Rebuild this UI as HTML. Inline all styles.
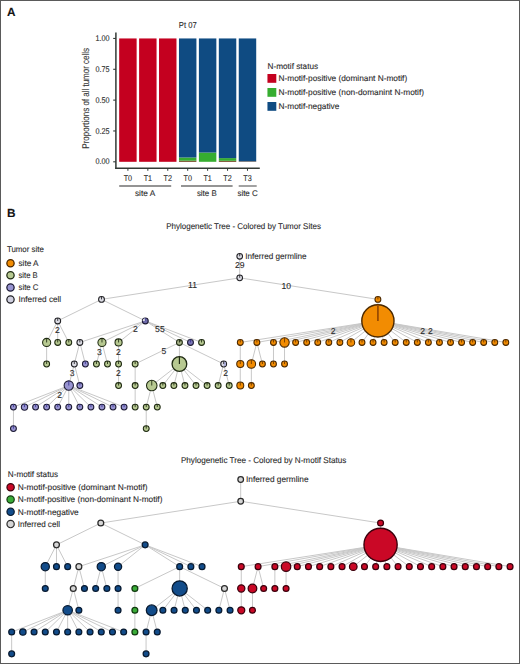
<!DOCTYPE html>
<html><head><meta charset="utf-8"><style>
html,body{margin:0;padding:0;background:#fff;}
body{width:520px;height:664px;overflow:hidden;}
svg{display:block;font-family:"Liberation Sans", sans-serif;text-rendering:geometricPrecision;}
text{stroke:#2a2a2a;stroke-width:0.1px;}
</style></head><body>
<svg width="520" height="664" viewBox="0 0 520 664">
<rect x="0" y="0" width="520" height="664" fill="#fff"/>
<text x="6.9" y="16.45" font-size="11.8" font-weight="bold" fill="#111">A</text>
<text x="7.0" y="217.3" font-size="11.8" font-weight="bold" fill="#111">B</text>
<text x="178.80" y="27.50" font-size="8.7" fill="#2a2a2a" textLength="17.9" lengthAdjust="spacingAndGlyphs">Pt 07</text>
<line x1="115.9" y1="32.5" x2="115.9" y2="168.9" stroke="#333a36" stroke-width="1.5"/>
<line x1="115.2" y1="168.2" x2="259.8" y2="168.2" stroke="#333a36" stroke-width="1.4"/>
<line x1="113.2" y1="38.45" x2="115.9" y2="38.45" stroke="#333a36" stroke-width="1.1"/>
<text x="109.50" y="41.00" font-size="8.3" text-anchor="end" fill="#2a2a2a" textLength="14.1" lengthAdjust="spacingAndGlyphs">1.00</text>
<line x1="113.2" y1="69.29" x2="115.9" y2="69.29" stroke="#333a36" stroke-width="1.1"/>
<text x="109.50" y="71.84" font-size="8.3" text-anchor="end" fill="#2a2a2a" textLength="14.1" lengthAdjust="spacingAndGlyphs">0.75</text>
<line x1="113.2" y1="100.12" x2="115.9" y2="100.12" stroke="#333a36" stroke-width="1.1"/>
<text x="109.50" y="102.67" font-size="8.3" text-anchor="end" fill="#2a2a2a" textLength="14.1" lengthAdjust="spacingAndGlyphs">0.50</text>
<line x1="113.2" y1="130.96" x2="115.9" y2="130.96" stroke="#333a36" stroke-width="1.1"/>
<text x="109.50" y="133.51" font-size="8.3" text-anchor="end" fill="#2a2a2a" textLength="14.1" lengthAdjust="spacingAndGlyphs">0.25</text>
<line x1="113.2" y1="161.80" x2="115.9" y2="161.80" stroke="#333a36" stroke-width="1.1"/>
<text x="109.50" y="164.35" font-size="8.3" text-anchor="end" fill="#2a2a2a" textLength="14.1" lengthAdjust="spacingAndGlyphs">0.00</text>
<text transform="translate(88.8,98.3) rotate(-90)" x="0" y="0" font-size="9.8" text-anchor="middle" fill="#3a3a3a" textLength="100.7" lengthAdjust="spacingAndGlyphs">Proportions of all tumor cells</text>
<rect x="119.18" y="38.45" width="17.45" height="123.35" fill="#c4001f"/>
<line x1="127.90" y1="168.2" x2="127.90" y2="170.8" stroke="#333a36" stroke-width="1"/>
<text x="127.90" y="181.15" font-size="8.3" text-anchor="middle" fill="#2a2a2a" textLength="8.4" lengthAdjust="spacingAndGlyphs">T0</text>
<rect x="139.11" y="38.45" width="17.45" height="123.35" fill="#c4001f"/>
<line x1="147.83" y1="168.2" x2="147.83" y2="170.8" stroke="#333a36" stroke-width="1"/>
<text x="147.83" y="181.15" font-size="8.3" text-anchor="middle" fill="#2a2a2a" textLength="8.4" lengthAdjust="spacingAndGlyphs">T1</text>
<rect x="159.03" y="38.45" width="17.45" height="123.35" fill="#c4001f"/>
<line x1="167.76" y1="168.2" x2="167.76" y2="170.8" stroke="#333a36" stroke-width="1"/>
<text x="167.76" y="181.15" font-size="8.3" text-anchor="middle" fill="#2a2a2a" textLength="8.4" lengthAdjust="spacingAndGlyphs">T2</text>
<rect x="178.97" y="160.69" width="17.45" height="1.11" fill="#6a3a14"/>
<rect x="178.97" y="157.48" width="17.45" height="3.21" fill="#36ad30"/>
<rect x="178.97" y="38.45" width="17.45" height="119.03" fill="#0f4b82"/>
<line x1="187.69" y1="168.2" x2="187.69" y2="170.8" stroke="#333a36" stroke-width="1"/>
<text x="187.69" y="181.15" font-size="8.3" text-anchor="middle" fill="#2a2a2a" textLength="8.4" lengthAdjust="spacingAndGlyphs">T0</text>
<rect x="198.90" y="152.55" width="17.45" height="9.25" fill="#36ad30"/>
<rect x="198.90" y="38.45" width="17.45" height="114.10" fill="#0f4b82"/>
<line x1="207.62" y1="168.2" x2="207.62" y2="170.8" stroke="#333a36" stroke-width="1"/>
<text x="207.62" y="181.15" font-size="8.3" text-anchor="middle" fill="#2a2a2a" textLength="8.4" lengthAdjust="spacingAndGlyphs">T1</text>
<rect x="218.83" y="160.81" width="17.45" height="0.99" fill="#6a3a14"/>
<rect x="218.83" y="158.10" width="17.45" height="2.71" fill="#36ad30"/>
<rect x="218.83" y="38.45" width="17.45" height="119.65" fill="#0f4b82"/>
<line x1="227.55" y1="168.2" x2="227.55" y2="170.8" stroke="#333a36" stroke-width="1"/>
<text x="227.55" y="181.15" font-size="8.3" text-anchor="middle" fill="#2a2a2a" textLength="8.4" lengthAdjust="spacingAndGlyphs">T2</text>
<rect x="238.76" y="161.31" width="17.45" height="0.49" fill="#6a3a14"/>
<rect x="238.76" y="38.45" width="17.45" height="122.86" fill="#0f4b82"/>
<line x1="247.48" y1="168.2" x2="247.48" y2="170.8" stroke="#333a36" stroke-width="1"/>
<text x="247.48" y="181.15" font-size="8.3" text-anchor="middle" fill="#2a2a2a" textLength="8.4" lengthAdjust="spacingAndGlyphs">T3</text>
<line x1="119.2" y1="186.0" x2="171.2" y2="186.0" stroke="#707070" stroke-width="1.3"/>
<text x="145.05" y="195.75" font-size="8.3" text-anchor="middle" fill="#2a2a2a" textLength="20.2" lengthAdjust="spacingAndGlyphs">site A</text>
<line x1="181" y1="186.0" x2="232.6" y2="186.0" stroke="#707070" stroke-width="1.3"/>
<text x="206.80" y="195.75" font-size="8.3" text-anchor="middle" fill="#2a2a2a" textLength="19.8" lengthAdjust="spacingAndGlyphs">site B</text>
<line x1="238.7" y1="186.0" x2="256.7" y2="186.0" stroke="#707070" stroke-width="1.3"/>
<text x="247.60" y="195.75" font-size="8.3" text-anchor="middle" fill="#2a2a2a" textLength="20.4" lengthAdjust="spacingAndGlyphs">site C</text>
<text x="267.50" y="68.77" font-size="8.2" fill="#2a2a2a" textLength="50.6" lengthAdjust="spacingAndGlyphs">N-motif status</text>
<rect x="267.45" y="74.00" width="8.85" height="8.8" fill="#c4001f"/>
<text x="278.50" y="80.75" font-size="8.3" fill="#2a2a2a" textLength="128.7" lengthAdjust="spacingAndGlyphs">N-motif-positive (dominant N-motif)</text>
<rect x="267.45" y="88.00" width="8.85" height="8.8" fill="#36ad30"/>
<text x="278.50" y="94.75" font-size="8.3" fill="#2a2a2a" textLength="145.5" lengthAdjust="spacingAndGlyphs">N-motif-positive (non-domanint N-motif)</text>
<rect x="267.45" y="102.00" width="8.85" height="8.8" fill="#0f4b82"/>
<text x="278.50" y="108.75" font-size="8.3" fill="#2a2a2a" textLength="60.8" lengthAdjust="spacingAndGlyphs">N-motif-negative</text>
<text x="166.20" y="228.60" font-size="8.4" fill="#2a2a2a" textLength="154.7" lengthAdjust="spacingAndGlyphs">Phylogenetic Tree - Colored by Tumor Sites</text>
<g stroke="#c8c8c8" stroke-width="1" fill="none">
<line x1="239.71" y1="256.30" x2="239.71" y2="277.84"/>
<line x1="239.71" y1="277.84" x2="101.51" y2="299.38"/>
<line x1="101.51" y1="299.38" x2="57.71" y2="320.92"/>
<line x1="57.71" y1="320.92" x2="46.64" y2="342.46"/>
<line x1="46.64" y1="342.46" x2="46.64" y2="364.00"/>
<line x1="57.71" y1="320.92" x2="57.71" y2="342.46"/>
<line x1="57.71" y1="320.92" x2="68.77" y2="342.46"/>
<line x1="101.51" y1="299.38" x2="145.31" y2="320.92"/>
<line x1="145.31" y1="320.92" x2="79.84" y2="342.46"/>
<line x1="79.84" y1="342.46" x2="74.31" y2="364.00"/>
<line x1="74.31" y1="364.00" x2="68.77" y2="385.54"/>
<line x1="68.77" y1="385.54" x2="13.45" y2="407.08"/>
<line x1="13.45" y1="407.08" x2="13.45" y2="428.62"/>
<line x1="68.77" y1="385.54" x2="24.52" y2="407.08"/>
<line x1="68.77" y1="385.54" x2="35.58" y2="407.08"/>
<line x1="68.77" y1="385.54" x2="46.64" y2="407.08"/>
<line x1="68.77" y1="385.54" x2="57.71" y2="407.08"/>
<line x1="68.77" y1="385.54" x2="68.77" y2="407.08"/>
<line x1="68.77" y1="385.54" x2="79.84" y2="407.08"/>
<line x1="68.77" y1="385.54" x2="90.91" y2="407.08"/>
<line x1="68.77" y1="385.54" x2="101.97" y2="407.08"/>
<line x1="68.77" y1="385.54" x2="113.03" y2="407.08"/>
<line x1="68.77" y1="385.54" x2="124.10" y2="407.08"/>
<line x1="74.31" y1="364.00" x2="79.84" y2="385.54"/>
<line x1="79.84" y1="342.46" x2="85.37" y2="364.00"/>
<line x1="145.31" y1="320.92" x2="101.97" y2="342.46"/>
<line x1="101.97" y1="342.46" x2="96.44" y2="364.00"/>
<line x1="101.97" y1="342.46" x2="107.50" y2="364.00"/>
<line x1="145.31" y1="320.92" x2="118.57" y2="342.46"/>
<line x1="118.57" y1="342.46" x2="118.57" y2="364.00"/>
<line x1="118.57" y1="364.00" x2="118.57" y2="385.54"/>
<line x1="145.31" y1="320.92" x2="179.42" y2="342.46"/>
<line x1="179.42" y1="342.46" x2="135.16" y2="364.00"/>
<line x1="135.16" y1="364.00" x2="135.16" y2="385.54"/>
<line x1="135.16" y1="385.54" x2="135.16" y2="407.08"/>
<line x1="179.42" y1="342.46" x2="179.42" y2="364.00"/>
<line x1="179.42" y1="364.00" x2="151.76" y2="385.54"/>
<line x1="151.76" y1="385.54" x2="146.23" y2="407.08"/>
<line x1="146.23" y1="407.08" x2="146.23" y2="428.62"/>
<line x1="151.76" y1="385.54" x2="157.29" y2="407.08"/>
<line x1="179.42" y1="364.00" x2="162.83" y2="385.54"/>
<line x1="179.42" y1="364.00" x2="173.89" y2="385.54"/>
<line x1="179.42" y1="364.00" x2="184.96" y2="385.54"/>
<line x1="179.42" y1="364.00" x2="196.02" y2="385.54"/>
<line x1="179.42" y1="364.00" x2="207.09" y2="385.54"/>
<line x1="179.42" y1="342.46" x2="223.68" y2="364.00"/>
<line x1="223.68" y1="364.00" x2="218.15" y2="385.54"/>
<line x1="223.68" y1="364.00" x2="229.22" y2="385.54"/>
<line x1="145.31" y1="320.92" x2="190.49" y2="342.46"/>
<line x1="145.31" y1="320.92" x2="201.55" y2="342.46"/>
<line x1="239.71" y1="277.84" x2="377.90" y2="299.38"/>
<line x1="377.90" y1="299.38" x2="377.90" y2="320.92"/>
<line x1="377.90" y1="320.92" x2="240.28" y2="342.46"/>
<line x1="240.28" y1="342.46" x2="240.28" y2="364.00"/>
<line x1="240.28" y1="364.00" x2="240.28" y2="385.54"/>
<line x1="377.90" y1="320.92" x2="256.88" y2="342.46"/>
<line x1="256.88" y1="342.46" x2="251.35" y2="364.00"/>
<line x1="251.35" y1="364.00" x2="251.35" y2="385.54"/>
<line x1="256.88" y1="342.46" x2="262.41" y2="364.00"/>
<line x1="377.90" y1="320.92" x2="273.48" y2="342.46"/>
<line x1="273.48" y1="342.46" x2="273.48" y2="364.00"/>
<line x1="377.90" y1="320.92" x2="284.54" y2="342.46"/>
<line x1="284.54" y1="342.46" x2="284.54" y2="364.00"/>
<line x1="377.90" y1="320.92" x2="295.61" y2="342.46"/>
<line x1="377.90" y1="320.92" x2="306.67" y2="342.46"/>
<line x1="377.90" y1="320.92" x2="317.74" y2="342.46"/>
<line x1="377.90" y1="320.92" x2="328.80" y2="342.46"/>
<line x1="377.90" y1="320.92" x2="339.87" y2="342.46"/>
<line x1="377.90" y1="320.92" x2="350.93" y2="342.46"/>
<line x1="377.90" y1="320.92" x2="362.00" y2="342.46"/>
<line x1="377.90" y1="320.92" x2="373.06" y2="342.46"/>
<line x1="377.90" y1="320.92" x2="384.13" y2="342.46"/>
<line x1="377.90" y1="320.92" x2="395.19" y2="342.46"/>
<line x1="377.90" y1="320.92" x2="406.26" y2="342.46"/>
<line x1="377.90" y1="320.92" x2="417.32" y2="342.46"/>
<line x1="377.90" y1="320.92" x2="428.39" y2="342.46"/>
<line x1="377.90" y1="320.92" x2="439.45" y2="342.46"/>
<line x1="377.90" y1="320.92" x2="450.52" y2="342.46"/>
<line x1="377.90" y1="320.92" x2="461.58" y2="342.46"/>
<line x1="377.90" y1="320.92" x2="472.65" y2="342.46"/>
<line x1="377.90" y1="320.92" x2="483.71" y2="342.46"/>
<line x1="377.90" y1="320.92" x2="494.78" y2="342.46"/>
<line x1="377.90" y1="320.92" x2="505.84" y2="342.46"/>
</g>
<circle cx="239.71" cy="256.30" r="2.83" fill="#dcdce4" stroke="#222226" stroke-width="1.05"/>
<line x1="239.71" y1="256.30" x2="239.71" y2="253.48" stroke="#222226" stroke-width="0.85"/>
<circle cx="239.71" cy="277.84" r="2.83" fill="#dcdce4" stroke="#222226" stroke-width="1.05"/>
<line x1="239.71" y1="277.84" x2="239.71" y2="275.02" stroke="#222226" stroke-width="0.85"/>
<circle cx="101.51" cy="299.38" r="2.93" fill="#dcdce4" stroke="#222226" stroke-width="1.05"/>
<line x1="101.51" y1="299.38" x2="101.51" y2="296.45" stroke="#222226" stroke-width="0.85"/>
<circle cx="57.71" cy="320.92" r="2.93" fill="#dcdce4" stroke="#222226" stroke-width="1.05"/>
<line x1="57.71" y1="320.92" x2="57.71" y2="318.00" stroke="#222226" stroke-width="0.85"/>
<circle cx="46.64" cy="342.46" r="4.07" fill="#b7c991" stroke="#1f2a12" stroke-width="1.05"/>
<line x1="46.64" y1="342.46" x2="46.64" y2="338.39" stroke="#1f2a12" stroke-width="0.85"/>
<circle cx="46.64" cy="364.00" r="2.93" fill="#b7c991" stroke="#1f2a12" stroke-width="1.05"/>
<line x1="46.64" y1="364.00" x2="46.64" y2="361.07" stroke="#1f2a12" stroke-width="0.85"/>
<circle cx="57.71" cy="342.46" r="2.93" fill="#b7c991" stroke="#1f2a12" stroke-width="1.05"/>
<line x1="57.71" y1="342.46" x2="57.71" y2="339.54" stroke="#1f2a12" stroke-width="0.85"/>
<circle cx="68.77" cy="342.46" r="2.93" fill="#b7c991" stroke="#1f2a12" stroke-width="1.05"/>
<line x1="68.77" y1="342.46" x2="68.77" y2="339.54" stroke="#1f2a12" stroke-width="0.85"/>
<circle cx="145.31" cy="320.92" r="2.93" fill="#6f6bab" stroke="#1c1a33" stroke-width="1.05"/>
<path d="M145.31,320.92 L145.31,318.30 A2.63,2.63 0 0 0 142.68,320.92 Z" fill="#dcdce4"/>
<line x1="145.31" y1="320.92" x2="145.31" y2="318.00" stroke="#3a3590" stroke-width="0.85"/>
<circle cx="79.84" cy="342.46" r="2.93" fill="#dcdce4" stroke="#222226" stroke-width="1.05"/>
<line x1="79.84" y1="342.46" x2="79.84" y2="339.54" stroke="#222226" stroke-width="0.85"/>
<circle cx="74.31" cy="364.00" r="2.93" fill="#dcdce4" stroke="#222226" stroke-width="1.05"/>
<line x1="74.31" y1="364.00" x2="74.31" y2="361.07" stroke="#222226" stroke-width="0.85"/>
<circle cx="68.77" cy="385.54" r="4.67" fill="#9894d1" stroke="#1c1a33" stroke-width="1.05"/>
<line x1="68.77" y1="385.54" x2="68.77" y2="380.87" stroke="#3a3590" stroke-width="0.85"/>
<circle cx="13.45" cy="407.08" r="2.93" fill="#9894d1" stroke="#1c1a33" stroke-width="1.05"/>
<line x1="13.45" y1="407.08" x2="13.45" y2="404.16" stroke="#3a3590" stroke-width="0.85"/>
<circle cx="13.45" cy="428.62" r="2.93" fill="#9894d1" stroke="#1c1a33" stroke-width="1.05"/>
<line x1="13.45" y1="428.62" x2="13.45" y2="425.69" stroke="#3a3590" stroke-width="0.85"/>
<circle cx="24.52" cy="407.08" r="3.18" fill="#9894d1" stroke="#1c1a33" stroke-width="1.05"/>
<line x1="24.52" y1="407.08" x2="24.52" y2="403.91" stroke="#3a3590" stroke-width="0.85"/>
<circle cx="35.58" cy="407.08" r="2.93" fill="#9894d1" stroke="#1c1a33" stroke-width="1.05"/>
<line x1="35.58" y1="407.08" x2="35.58" y2="404.16" stroke="#3a3590" stroke-width="0.85"/>
<circle cx="46.64" cy="407.08" r="2.93" fill="#9894d1" stroke="#1c1a33" stroke-width="1.05"/>
<line x1="46.64" y1="407.08" x2="46.64" y2="404.16" stroke="#3a3590" stroke-width="0.85"/>
<circle cx="57.71" cy="407.08" r="2.93" fill="#9894d1" stroke="#1c1a33" stroke-width="1.05"/>
<line x1="57.71" y1="407.08" x2="57.71" y2="404.16" stroke="#3a3590" stroke-width="0.85"/>
<circle cx="68.77" cy="407.08" r="2.93" fill="#9894d1" stroke="#1c1a33" stroke-width="1.05"/>
<line x1="68.77" y1="407.08" x2="68.77" y2="404.16" stroke="#3a3590" stroke-width="0.85"/>
<circle cx="79.84" cy="407.08" r="2.93" fill="#9894d1" stroke="#1c1a33" stroke-width="1.05"/>
<line x1="79.84" y1="407.08" x2="79.84" y2="404.16" stroke="#3a3590" stroke-width="0.85"/>
<circle cx="90.91" cy="407.08" r="2.93" fill="#9894d1" stroke="#1c1a33" stroke-width="1.05"/>
<line x1="90.91" y1="407.08" x2="90.91" y2="404.16" stroke="#3a3590" stroke-width="0.85"/>
<circle cx="101.97" cy="407.08" r="2.93" fill="#9894d1" stroke="#1c1a33" stroke-width="1.05"/>
<line x1="101.97" y1="407.08" x2="101.97" y2="404.16" stroke="#3a3590" stroke-width="0.85"/>
<circle cx="113.03" cy="407.08" r="2.93" fill="#9894d1" stroke="#1c1a33" stroke-width="1.05"/>
<line x1="113.03" y1="407.08" x2="113.03" y2="404.16" stroke="#3a3590" stroke-width="0.85"/>
<circle cx="124.10" cy="407.08" r="2.93" fill="#9894d1" stroke="#1c1a33" stroke-width="1.05"/>
<line x1="124.10" y1="407.08" x2="124.10" y2="404.16" stroke="#3a3590" stroke-width="0.85"/>
<circle cx="79.84" cy="385.54" r="2.93" fill="#9894d1" stroke="#1c1a33" stroke-width="1.05"/>
<line x1="79.84" y1="385.54" x2="79.84" y2="382.62" stroke="#3a3590" stroke-width="0.85"/>
<circle cx="85.37" cy="364.00" r="2.93" fill="#9894d1" stroke="#1c1a33" stroke-width="1.05"/>
<line x1="85.37" y1="364.00" x2="85.37" y2="361.07" stroke="#3a3590" stroke-width="0.85"/>
<circle cx="101.97" cy="342.46" r="4.07" fill="#b7c991" stroke="#1f2a12" stroke-width="1.05"/>
<line x1="101.97" y1="342.46" x2="101.97" y2="338.39" stroke="#1f2a12" stroke-width="0.85"/>
<circle cx="96.44" cy="364.00" r="2.93" fill="#b7c991" stroke="#1f2a12" stroke-width="1.05"/>
<line x1="96.44" y1="364.00" x2="96.44" y2="361.07" stroke="#1f2a12" stroke-width="0.85"/>
<circle cx="107.50" cy="364.00" r="2.93" fill="#b7c991" stroke="#1f2a12" stroke-width="1.05"/>
<line x1="107.50" y1="364.00" x2="107.50" y2="361.07" stroke="#1f2a12" stroke-width="0.85"/>
<circle cx="118.57" cy="342.46" r="3.57" fill="#b7c991" stroke="#1f2a12" stroke-width="1.05"/>
<line x1="118.57" y1="342.46" x2="118.57" y2="338.89" stroke="#1f2a12" stroke-width="0.85"/>
<circle cx="118.57" cy="364.00" r="2.93" fill="#b7c991" stroke="#1f2a12" stroke-width="1.05"/>
<line x1="118.57" y1="364.00" x2="118.57" y2="361.07" stroke="#1f2a12" stroke-width="0.85"/>
<circle cx="118.57" cy="385.54" r="2.93" fill="#b7c991" stroke="#1f2a12" stroke-width="1.05"/>
<line x1="118.57" y1="385.54" x2="118.57" y2="382.62" stroke="#1f2a12" stroke-width="0.85"/>
<circle cx="179.42" cy="342.46" r="2.93" fill="#a9b48a" stroke="#1f2a12" stroke-width="1.05"/>
<path d="M179.42,342.46 L179.42,339.54 A2.93,2.93 0 0 1 181.47,340.41 Z" fill="#3a4420"/>
<line x1="179.42" y1="342.46" x2="179.42" y2="339.54" stroke="#1f2a12" stroke-width="0.85"/>
<circle cx="135.16" cy="364.00" r="2.93" fill="#b7c991" stroke="#1f2a12" stroke-width="1.05"/>
<line x1="135.16" y1="364.00" x2="135.16" y2="361.07" stroke="#1f2a12" stroke-width="0.85"/>
<circle cx="135.16" cy="385.54" r="2.93" fill="#b7c991" stroke="#1f2a12" stroke-width="1.05"/>
<line x1="135.16" y1="385.54" x2="135.16" y2="382.62" stroke="#1f2a12" stroke-width="0.85"/>
<circle cx="135.16" cy="407.08" r="2.93" fill="#b7c991" stroke="#1f2a12" stroke-width="1.05"/>
<line x1="135.16" y1="407.08" x2="135.16" y2="404.16" stroke="#1f2a12" stroke-width="0.85"/>
<circle cx="179.42" cy="364.00" r="7.35" fill="#b7c991" stroke="#1f2a12" stroke-width="1.3"/>
<line x1="179.42" y1="364.00" x2="179.42" y2="356.65" stroke="#1f2a12" stroke-width="1.2"/>
<circle cx="151.76" cy="385.54" r="5.27" fill="#b7c991" stroke="#1f2a12" stroke-width="1.05"/>
<line x1="151.76" y1="385.54" x2="151.76" y2="380.27" stroke="#1f2a12" stroke-width="0.85"/>
<circle cx="146.23" cy="407.08" r="2.93" fill="#b7c991" stroke="#1f2a12" stroke-width="1.05"/>
<line x1="146.23" y1="407.08" x2="146.23" y2="404.16" stroke="#1f2a12" stroke-width="0.85"/>
<circle cx="146.23" cy="428.62" r="2.93" fill="#b7c991" stroke="#1f2a12" stroke-width="1.05"/>
<line x1="146.23" y1="428.62" x2="146.23" y2="425.69" stroke="#1f2a12" stroke-width="0.85"/>
<circle cx="157.29" cy="407.08" r="2.93" fill="#b7c991" stroke="#1f2a12" stroke-width="1.05"/>
<line x1="157.29" y1="407.08" x2="157.29" y2="404.16" stroke="#1f2a12" stroke-width="0.85"/>
<circle cx="162.83" cy="385.54" r="2.93" fill="#b7c991" stroke="#1f2a12" stroke-width="1.05"/>
<line x1="162.83" y1="385.54" x2="162.83" y2="382.62" stroke="#1f2a12" stroke-width="0.85"/>
<circle cx="173.89" cy="385.54" r="2.93" fill="#b7c991" stroke="#1f2a12" stroke-width="1.05"/>
<line x1="173.89" y1="385.54" x2="173.89" y2="382.62" stroke="#1f2a12" stroke-width="0.85"/>
<circle cx="184.96" cy="385.54" r="2.93" fill="#b7c991" stroke="#1f2a12" stroke-width="1.05"/>
<line x1="184.96" y1="385.54" x2="184.96" y2="382.62" stroke="#1f2a12" stroke-width="0.85"/>
<circle cx="196.02" cy="385.54" r="2.93" fill="#b7c991" stroke="#1f2a12" stroke-width="1.05"/>
<line x1="196.02" y1="385.54" x2="196.02" y2="382.62" stroke="#1f2a12" stroke-width="0.85"/>
<circle cx="207.09" cy="385.54" r="2.93" fill="#b7c991" stroke="#1f2a12" stroke-width="1.05"/>
<line x1="207.09" y1="385.54" x2="207.09" y2="382.62" stroke="#1f2a12" stroke-width="0.85"/>
<circle cx="223.68" cy="364.00" r="2.93" fill="#dcdce4" stroke="#222226" stroke-width="1.05"/>
<path d="M223.68,364.00 L223.68,361.38 A2.63,2.63 0 0 1 223.68,366.62 Z" fill="#aeb0dc"/>
<line x1="223.68" y1="364.00" x2="223.68" y2="361.07" stroke="#222226" stroke-width="0.85"/>
<circle cx="218.15" cy="385.54" r="2.93" fill="#b7c991" stroke="#1f2a12" stroke-width="1.05"/>
<line x1="218.15" y1="385.54" x2="218.15" y2="382.62" stroke="#1f2a12" stroke-width="0.85"/>
<circle cx="229.22" cy="385.54" r="2.93" fill="#b7c991" stroke="#1f2a12" stroke-width="1.05"/>
<line x1="229.22" y1="385.54" x2="229.22" y2="382.62" stroke="#1f2a12" stroke-width="0.85"/>
<circle cx="190.49" cy="342.46" r="2.93" fill="#7a76b6" stroke="#1c1a33" stroke-width="1.05"/>
<line x1="190.49" y1="342.46" x2="190.49" y2="339.54" stroke="#3a3590" stroke-width="0.85"/>
<circle cx="201.55" cy="342.46" r="2.93" fill="#b7c991" stroke="#1f2a12" stroke-width="1.05"/>
<line x1="201.55" y1="342.46" x2="201.55" y2="339.54" stroke="#1f2a12" stroke-width="0.85"/>
<circle cx="377.90" cy="299.38" r="2.93" fill="#f28c02" stroke="#4a2800" stroke-width="1.05"/>
<line x1="377.90" y1="299.38" x2="377.90" y2="296.45" stroke="#6a3800" stroke-width="0.85"/>
<circle cx="377.90" cy="320.92" r="16.10" fill="#f28c02" stroke="#4a2800" stroke-width="1.4"/>
<line x1="377.90" y1="320.92" x2="377.90" y2="304.82" stroke="#9a4c00" stroke-width="1.8"/>
<circle cx="240.28" cy="342.46" r="2.93" fill="#f28c02" stroke="#4a2800" stroke-width="1.05"/>
<line x1="240.28" y1="342.46" x2="240.28" y2="339.54" stroke="#6a3800" stroke-width="0.85"/>
<circle cx="240.28" cy="364.00" r="3.57" fill="#f28c02" stroke="#4a2800" stroke-width="1.05"/>
<line x1="240.28" y1="364.00" x2="240.28" y2="360.43" stroke="#6a3800" stroke-width="0.85"/>
<circle cx="240.28" cy="385.54" r="3.48" fill="#f28c02" stroke="#4a2800" stroke-width="1.05"/>
<line x1="240.28" y1="385.54" x2="240.28" y2="382.06" stroke="#6a3800" stroke-width="0.85"/>
<circle cx="256.88" cy="342.46" r="2.93" fill="#f28c02" stroke="#4a2800" stroke-width="1.05"/>
<line x1="256.88" y1="342.46" x2="256.88" y2="339.54" stroke="#6a3800" stroke-width="0.85"/>
<circle cx="251.35" cy="364.00" r="4.27" fill="#f28c02" stroke="#4a2800" stroke-width="1.05"/>
<line x1="251.35" y1="364.00" x2="251.35" y2="359.73" stroke="#6a3800" stroke-width="0.85"/>
<circle cx="251.35" cy="385.54" r="2.93" fill="#f28c02" stroke="#4a2800" stroke-width="1.05"/>
<line x1="251.35" y1="385.54" x2="251.35" y2="382.62" stroke="#6a3800" stroke-width="0.85"/>
<circle cx="262.41" cy="364.00" r="2.93" fill="#f28c02" stroke="#4a2800" stroke-width="1.05"/>
<line x1="262.41" y1="364.00" x2="262.41" y2="361.07" stroke="#6a3800" stroke-width="0.85"/>
<circle cx="273.48" cy="342.46" r="2.93" fill="#f28c02" stroke="#4a2800" stroke-width="1.05"/>
<line x1="273.48" y1="342.46" x2="273.48" y2="339.54" stroke="#6a3800" stroke-width="0.85"/>
<circle cx="273.48" cy="364.00" r="2.93" fill="#f28c02" stroke="#4a2800" stroke-width="1.05"/>
<line x1="273.48" y1="364.00" x2="273.48" y2="361.07" stroke="#6a3800" stroke-width="0.85"/>
<circle cx="284.54" cy="342.46" r="4.67" fill="#f28c02" stroke="#4a2800" stroke-width="1.05"/>
<line x1="284.54" y1="342.46" x2="284.54" y2="337.79" stroke="#6a3800" stroke-width="0.85"/>
<circle cx="284.54" cy="364.00" r="2.93" fill="#f28c02" stroke="#4a2800" stroke-width="1.05"/>
<line x1="284.54" y1="364.00" x2="284.54" y2="361.07" stroke="#6a3800" stroke-width="0.85"/>
<circle cx="295.61" cy="342.46" r="2.93" fill="#f28c02" stroke="#4a2800" stroke-width="1.05"/>
<line x1="295.61" y1="342.46" x2="295.61" y2="339.54" stroke="#6a3800" stroke-width="0.85"/>
<circle cx="306.67" cy="342.46" r="2.93" fill="#f28c02" stroke="#4a2800" stroke-width="1.05"/>
<line x1="306.67" y1="342.46" x2="306.67" y2="339.54" stroke="#6a3800" stroke-width="0.85"/>
<circle cx="317.74" cy="342.46" r="2.93" fill="#f28c02" stroke="#4a2800" stroke-width="1.05"/>
<line x1="317.74" y1="342.46" x2="317.74" y2="339.54" stroke="#6a3800" stroke-width="0.85"/>
<circle cx="328.80" cy="342.46" r="2.93" fill="#f28c02" stroke="#4a2800" stroke-width="1.05"/>
<line x1="328.80" y1="342.46" x2="328.80" y2="339.54" stroke="#6a3800" stroke-width="0.85"/>
<circle cx="339.87" cy="342.46" r="2.93" fill="#f28c02" stroke="#4a2800" stroke-width="1.05"/>
<line x1="339.87" y1="342.46" x2="339.87" y2="339.54" stroke="#6a3800" stroke-width="0.85"/>
<circle cx="350.93" cy="342.46" r="3.77" fill="#f28c02" stroke="#4a2800" stroke-width="1.05"/>
<line x1="350.93" y1="342.46" x2="350.93" y2="338.69" stroke="#6a3800" stroke-width="0.85"/>
<circle cx="362.00" cy="342.46" r="2.93" fill="#f28c02" stroke="#4a2800" stroke-width="1.05"/>
<line x1="362.00" y1="342.46" x2="362.00" y2="339.54" stroke="#6a3800" stroke-width="0.85"/>
<circle cx="373.06" cy="342.46" r="2.93" fill="#f28c02" stroke="#4a2800" stroke-width="1.05"/>
<line x1="373.06" y1="342.46" x2="373.06" y2="339.54" stroke="#6a3800" stroke-width="0.85"/>
<circle cx="384.13" cy="342.46" r="2.93" fill="#f28c02" stroke="#4a2800" stroke-width="1.05"/>
<line x1="384.13" y1="342.46" x2="384.13" y2="339.54" stroke="#6a3800" stroke-width="0.85"/>
<circle cx="395.19" cy="342.46" r="2.93" fill="#f28c02" stroke="#4a2800" stroke-width="1.05"/>
<line x1="395.19" y1="342.46" x2="395.19" y2="339.54" stroke="#6a3800" stroke-width="0.85"/>
<circle cx="406.26" cy="342.46" r="2.93" fill="#f28c02" stroke="#4a2800" stroke-width="1.05"/>
<line x1="406.26" y1="342.46" x2="406.26" y2="339.54" stroke="#6a3800" stroke-width="0.85"/>
<circle cx="417.32" cy="342.46" r="2.93" fill="#f28c02" stroke="#4a2800" stroke-width="1.05"/>
<line x1="417.32" y1="342.46" x2="417.32" y2="339.54" stroke="#6a3800" stroke-width="0.85"/>
<circle cx="428.39" cy="342.46" r="2.93" fill="#f28c02" stroke="#4a2800" stroke-width="1.05"/>
<line x1="428.39" y1="342.46" x2="428.39" y2="339.54" stroke="#6a3800" stroke-width="0.85"/>
<circle cx="439.45" cy="342.46" r="2.93" fill="#f28c02" stroke="#4a2800" stroke-width="1.05"/>
<line x1="439.45" y1="342.46" x2="439.45" y2="339.54" stroke="#6a3800" stroke-width="0.85"/>
<circle cx="450.52" cy="342.46" r="2.93" fill="#f28c02" stroke="#4a2800" stroke-width="1.05"/>
<line x1="450.52" y1="342.46" x2="450.52" y2="339.54" stroke="#6a3800" stroke-width="0.85"/>
<circle cx="461.58" cy="342.46" r="2.93" fill="#f28c02" stroke="#4a2800" stroke-width="1.05"/>
<line x1="461.58" y1="342.46" x2="461.58" y2="339.54" stroke="#6a3800" stroke-width="0.85"/>
<circle cx="472.65" cy="342.46" r="2.93" fill="#f28c02" stroke="#4a2800" stroke-width="1.05"/>
<line x1="472.65" y1="342.46" x2="472.65" y2="339.54" stroke="#6a3800" stroke-width="0.85"/>
<circle cx="483.71" cy="342.46" r="2.93" fill="#f28c02" stroke="#4a2800" stroke-width="1.05"/>
<line x1="483.71" y1="342.46" x2="483.71" y2="339.54" stroke="#6a3800" stroke-width="0.85"/>
<circle cx="494.78" cy="342.46" r="2.93" fill="#f28c02" stroke="#4a2800" stroke-width="1.05"/>
<line x1="494.78" y1="342.46" x2="494.78" y2="339.54" stroke="#6a3800" stroke-width="0.85"/>
<circle cx="505.84" cy="342.46" r="2.93" fill="#f28c02" stroke="#4a2800" stroke-width="1.05"/>
<line x1="505.84" y1="342.46" x2="505.84" y2="339.54" stroke="#6a3800" stroke-width="0.85"/>
<text x="245.20" y="259.20" font-size="8.3" fill="#2a2a2a" textLength="61.4" lengthAdjust="spacingAndGlyphs">Inferred germline</text>
<text x="239.70" y="267.90" font-size="8.6" text-anchor="middle" fill="#2a2a2a">29</text>
<text x="192.50" y="288.30" font-size="8.6" text-anchor="middle" fill="#2a2a2a">11</text>
<text x="286.30" y="288.50" font-size="8.6" text-anchor="middle" fill="#2a2a2a">10</text>
<text x="57.50" y="333.00" font-size="8.6" text-anchor="middle" fill="#2a2a2a">2</text>
<text x="135.40" y="332.40" font-size="8.6" text-anchor="middle" fill="#2a2a2a">2</text>
<text x="159.90" y="332.40" font-size="8.6" text-anchor="middle" fill="#2a2a2a">55</text>
<text x="99.30" y="355.10" font-size="8.6" text-anchor="middle" fill="#2a2a2a">3</text>
<text x="118.30" y="355.10" font-size="8.6" text-anchor="middle" fill="#2a2a2a">2</text>
<text x="118.30" y="375.80" font-size="8.6" text-anchor="middle" fill="#2a2a2a">2</text>
<text x="164.00" y="354.20" font-size="8.6" text-anchor="middle" fill="#2a2a2a">5</text>
<text x="225.60" y="376.20" font-size="8.6" text-anchor="middle" fill="#2a2a2a">2</text>
<text x="72.10" y="375.60" font-size="8.6" text-anchor="middle" fill="#2a2a2a">3</text>
<text x="59.60" y="398.30" font-size="8.6" text-anchor="middle" fill="#2a2a2a">2</text>
<text x="333.10" y="333.80" font-size="8.6" text-anchor="middle" fill="#2a2a2a">2</text>
<text x="422.60" y="333.60" font-size="8.6" text-anchor="middle" fill="#2a2a2a">2</text>
<text x="430.40" y="333.60" font-size="8.6" text-anchor="middle" fill="#2a2a2a">2</text>
<text x="6.90" y="252.40" font-size="8.3" fill="#2a2a2a" textLength="36.9" lengthAdjust="spacingAndGlyphs">Tumor site</text>
<circle cx="10.5" cy="263.20" r="3.65" fill="#f28c02" stroke="#4a2800" stroke-width="1.25"/>
<text x="18.50" y="266.10" font-size="8.3" fill="#2a2a2a" textLength="20.0" lengthAdjust="spacingAndGlyphs">site A</text>
<circle cx="10.5" cy="275.30" r="3.65" fill="#b7c991" stroke="#1f2a12" stroke-width="1.25"/>
<text x="18.50" y="278.20" font-size="8.3" fill="#2a2a2a" textLength="19.2" lengthAdjust="spacingAndGlyphs">site B</text>
<circle cx="10.5" cy="287.40" r="3.65" fill="#9894d1" stroke="#1c1a33" stroke-width="1.25"/>
<text x="18.50" y="290.30" font-size="8.3" fill="#2a2a2a" textLength="20.0" lengthAdjust="spacingAndGlyphs">site C</text>
<circle cx="10.5" cy="299.50" r="3.65" fill="#d0d0e0" stroke="#222226" stroke-width="1.25"/>
<text x="18.50" y="302.40" font-size="8.3" fill="#2a2a2a" textLength="42.7" lengthAdjust="spacingAndGlyphs">Inferred cell</text>
<text x="180.90" y="463.00" font-size="8.4" fill="#2a2a2a" textLength="165.4" lengthAdjust="spacingAndGlyphs">Phylogenetic Tree - Colored by N-motif Status</text>
<g stroke="#c8c8c8" stroke-width="1" fill="none">
<line x1="240.69" y1="479.45" x2="240.69" y2="501.25"/>
<line x1="240.69" y1="501.25" x2="100.80" y2="523.05"/>
<line x1="100.80" y1="523.05" x2="56.47" y2="544.85"/>
<line x1="56.47" y1="544.85" x2="45.27" y2="566.65"/>
<line x1="45.27" y1="566.65" x2="45.27" y2="588.45"/>
<line x1="56.47" y1="544.85" x2="56.47" y2="566.65"/>
<line x1="56.47" y1="544.85" x2="67.67" y2="566.65"/>
<line x1="100.80" y1="523.05" x2="145.14" y2="544.85"/>
<line x1="145.14" y1="544.85" x2="78.87" y2="566.65"/>
<line x1="78.87" y1="566.65" x2="73.27" y2="588.45"/>
<line x1="73.27" y1="588.45" x2="67.67" y2="610.25"/>
<line x1="67.67" y1="610.25" x2="11.67" y2="632.05"/>
<line x1="11.67" y1="632.05" x2="11.67" y2="653.85"/>
<line x1="67.67" y1="610.25" x2="22.87" y2="632.05"/>
<line x1="67.67" y1="610.25" x2="34.07" y2="632.05"/>
<line x1="67.67" y1="610.25" x2="45.27" y2="632.05"/>
<line x1="67.67" y1="610.25" x2="56.47" y2="632.05"/>
<line x1="67.67" y1="610.25" x2="67.67" y2="632.05"/>
<line x1="67.67" y1="610.25" x2="78.87" y2="632.05"/>
<line x1="67.67" y1="610.25" x2="90.07" y2="632.05"/>
<line x1="67.67" y1="610.25" x2="101.27" y2="632.05"/>
<line x1="67.67" y1="610.25" x2="112.47" y2="632.05"/>
<line x1="67.67" y1="610.25" x2="123.67" y2="632.05"/>
<line x1="73.27" y1="588.45" x2="78.87" y2="610.25"/>
<line x1="78.87" y1="566.65" x2="84.47" y2="588.45"/>
<line x1="145.14" y1="544.85" x2="101.27" y2="566.65"/>
<line x1="101.27" y1="566.65" x2="95.67" y2="588.45"/>
<line x1="101.27" y1="566.65" x2="106.87" y2="588.45"/>
<line x1="145.14" y1="544.85" x2="118.07" y2="566.65"/>
<line x1="118.07" y1="566.65" x2="118.07" y2="588.45"/>
<line x1="118.07" y1="588.45" x2="118.07" y2="610.25"/>
<line x1="145.14" y1="544.85" x2="179.67" y2="566.65"/>
<line x1="179.67" y1="566.65" x2="134.87" y2="588.45"/>
<line x1="134.87" y1="588.45" x2="134.87" y2="610.25"/>
<line x1="134.87" y1="610.25" x2="134.87" y2="632.05"/>
<line x1="179.67" y1="566.65" x2="179.67" y2="588.45"/>
<line x1="179.67" y1="588.45" x2="151.67" y2="610.25"/>
<line x1="151.67" y1="610.25" x2="146.07" y2="632.05"/>
<line x1="146.07" y1="632.05" x2="146.07" y2="653.85"/>
<line x1="151.67" y1="610.25" x2="157.27" y2="632.05"/>
<line x1="179.67" y1="588.45" x2="162.87" y2="610.25"/>
<line x1="179.67" y1="588.45" x2="174.07" y2="610.25"/>
<line x1="179.67" y1="588.45" x2="185.27" y2="610.25"/>
<line x1="179.67" y1="588.45" x2="196.47" y2="610.25"/>
<line x1="179.67" y1="588.45" x2="207.67" y2="610.25"/>
<line x1="179.67" y1="566.65" x2="224.47" y2="588.45"/>
<line x1="224.47" y1="588.45" x2="218.87" y2="610.25"/>
<line x1="224.47" y1="588.45" x2="230.07" y2="610.25"/>
<line x1="145.14" y1="544.85" x2="190.87" y2="566.65"/>
<line x1="145.14" y1="544.85" x2="202.07" y2="566.65"/>
<line x1="240.69" y1="501.25" x2="380.57" y2="523.05"/>
<line x1="380.57" y1="523.05" x2="380.57" y2="544.85"/>
<line x1="380.57" y1="544.85" x2="241.27" y2="566.65"/>
<line x1="241.27" y1="566.65" x2="241.27" y2="588.45"/>
<line x1="241.27" y1="588.45" x2="241.27" y2="610.25"/>
<line x1="380.57" y1="544.85" x2="258.07" y2="566.65"/>
<line x1="258.07" y1="566.65" x2="252.47" y2="588.45"/>
<line x1="252.47" y1="588.45" x2="252.47" y2="610.25"/>
<line x1="258.07" y1="566.65" x2="263.67" y2="588.45"/>
<line x1="380.57" y1="544.85" x2="274.87" y2="566.65"/>
<line x1="274.87" y1="566.65" x2="274.87" y2="588.45"/>
<line x1="380.57" y1="544.85" x2="286.07" y2="566.65"/>
<line x1="286.07" y1="566.65" x2="286.07" y2="588.45"/>
<line x1="380.57" y1="544.85" x2="297.27" y2="566.65"/>
<line x1="380.57" y1="544.85" x2="308.47" y2="566.65"/>
<line x1="380.57" y1="544.85" x2="319.67" y2="566.65"/>
<line x1="380.57" y1="544.85" x2="330.87" y2="566.65"/>
<line x1="380.57" y1="544.85" x2="342.07" y2="566.65"/>
<line x1="380.57" y1="544.85" x2="353.27" y2="566.65"/>
<line x1="380.57" y1="544.85" x2="364.47" y2="566.65"/>
<line x1="380.57" y1="544.85" x2="375.67" y2="566.65"/>
<line x1="380.57" y1="544.85" x2="386.87" y2="566.65"/>
<line x1="380.57" y1="544.85" x2="398.07" y2="566.65"/>
<line x1="380.57" y1="544.85" x2="409.27" y2="566.65"/>
<line x1="380.57" y1="544.85" x2="420.47" y2="566.65"/>
<line x1="380.57" y1="544.85" x2="431.67" y2="566.65"/>
<line x1="380.57" y1="544.85" x2="442.87" y2="566.65"/>
<line x1="380.57" y1="544.85" x2="454.07" y2="566.65"/>
<line x1="380.57" y1="544.85" x2="465.27" y2="566.65"/>
<line x1="380.57" y1="544.85" x2="476.47" y2="566.65"/>
<line x1="380.57" y1="544.85" x2="487.67" y2="566.65"/>
<line x1="380.57" y1="544.85" x2="498.87" y2="566.65"/>
<line x1="380.57" y1="544.85" x2="510.07" y2="566.65"/>
</g>
<circle cx="240.69" cy="479.45" r="2.83" fill="#d6d6d6" stroke="#2a2a2a" stroke-width="1.25"/>
<circle cx="240.69" cy="501.25" r="2.83" fill="#d6d6d6" stroke="#2a2a2a" stroke-width="1.25"/>
<circle cx="100.80" cy="523.05" r="2.93" fill="#d6d6d6" stroke="#2a2a2a" stroke-width="1.25"/>
<circle cx="56.47" cy="544.85" r="2.93" fill="#d6d6d6" stroke="#2a2a2a" stroke-width="1.25"/>
<circle cx="45.27" cy="566.65" r="4.11" fill="#124c8a" stroke="#081a30" stroke-width="1.25"/>
<circle cx="45.27" cy="588.45" r="2.93" fill="#124c8a" stroke="#081a30" stroke-width="1.25"/>
<circle cx="56.47" cy="566.65" r="2.93" fill="#124c8a" stroke="#081a30" stroke-width="1.25"/>
<circle cx="67.67" cy="566.65" r="2.93" fill="#124c8a" stroke="#081a30" stroke-width="1.25"/>
<circle cx="145.14" cy="544.85" r="2.93" fill="#124c8a" stroke="#081a30" stroke-width="1.25"/>
<circle cx="78.87" cy="566.65" r="2.93" fill="#d6d6d6" stroke="#2a2a2a" stroke-width="1.25"/>
<circle cx="73.27" cy="588.45" r="2.93" fill="#d6d6d6" stroke="#2a2a2a" stroke-width="1.25"/>
<circle cx="67.67" cy="610.25" r="4.73" fill="#124c8a" stroke="#081a30" stroke-width="1.25"/>
<circle cx="11.67" cy="632.05" r="2.93" fill="#124c8a" stroke="#081a30" stroke-width="1.25"/>
<circle cx="11.67" cy="653.85" r="2.93" fill="#124c8a" stroke="#081a30" stroke-width="1.25"/>
<circle cx="22.87" cy="632.05" r="3.19" fill="#124c8a" stroke="#081a30" stroke-width="1.25"/>
<circle cx="34.07" cy="632.05" r="2.93" fill="#124c8a" stroke="#081a30" stroke-width="1.25"/>
<circle cx="45.27" cy="632.05" r="2.93" fill="#124c8a" stroke="#081a30" stroke-width="1.25"/>
<circle cx="56.47" cy="632.05" r="2.93" fill="#124c8a" stroke="#081a30" stroke-width="1.25"/>
<circle cx="67.67" cy="632.05" r="2.93" fill="#124c8a" stroke="#081a30" stroke-width="1.25"/>
<circle cx="78.87" cy="632.05" r="2.93" fill="#124c8a" stroke="#081a30" stroke-width="1.25"/>
<circle cx="90.07" cy="632.05" r="2.93" fill="#124c8a" stroke="#081a30" stroke-width="1.25"/>
<circle cx="101.27" cy="632.05" r="2.93" fill="#124c8a" stroke="#081a30" stroke-width="1.25"/>
<circle cx="112.47" cy="632.05" r="2.93" fill="#124c8a" stroke="#081a30" stroke-width="1.25"/>
<circle cx="123.67" cy="632.05" r="2.93" fill="#124c8a" stroke="#081a30" stroke-width="1.25"/>
<circle cx="78.87" cy="610.25" r="2.93" fill="#124c8a" stroke="#081a30" stroke-width="1.25"/>
<circle cx="84.47" cy="588.45" r="2.93" fill="#124c8a" stroke="#081a30" stroke-width="1.25"/>
<circle cx="101.27" cy="566.65" r="4.11" fill="#124c8a" stroke="#081a30" stroke-width="1.25"/>
<circle cx="95.67" cy="588.45" r="2.93" fill="#124c8a" stroke="#081a30" stroke-width="1.25"/>
<circle cx="106.87" cy="588.45" r="2.93" fill="#124c8a" stroke="#081a30" stroke-width="1.25"/>
<circle cx="118.07" cy="566.65" r="3.60" fill="#124c8a" stroke="#081a30" stroke-width="1.25"/>
<circle cx="118.07" cy="588.45" r="2.93" fill="#124c8a" stroke="#081a30" stroke-width="1.25"/>
<circle cx="118.07" cy="610.25" r="2.93" fill="#124c8a" stroke="#081a30" stroke-width="1.25"/>
<circle cx="179.67" cy="566.65" r="2.93" fill="#124c8a" stroke="#081a30" stroke-width="1.25"/>
<circle cx="134.87" cy="588.45" r="2.93" fill="#3aac38" stroke="#123a10" stroke-width="1.25"/>
<circle cx="134.87" cy="610.25" r="2.93" fill="#3aac38" stroke="#123a10" stroke-width="1.25"/>
<circle cx="134.87" cy="632.05" r="2.93" fill="#3aac38" stroke="#123a10" stroke-width="1.25"/>
<circle cx="179.67" cy="588.45" r="7.59" fill="#124c8a" stroke="#081a30" stroke-width="1.3"/>
<circle cx="151.67" cy="610.25" r="5.35" fill="#124c8a" stroke="#081a30" stroke-width="1.25"/>
<circle cx="146.07" cy="632.05" r="2.93" fill="#124c8a" stroke="#081a30" stroke-width="1.25"/>
<circle cx="146.07" cy="653.85" r="2.93" fill="#124c8a" stroke="#081a30" stroke-width="1.25"/>
<circle cx="157.27" cy="632.05" r="2.93" fill="#124c8a" stroke="#081a30" stroke-width="1.25"/>
<circle cx="162.87" cy="610.25" r="2.93" fill="#124c8a" stroke="#081a30" stroke-width="1.25"/>
<circle cx="174.07" cy="610.25" r="2.93" fill="#124c8a" stroke="#081a30" stroke-width="1.25"/>
<circle cx="185.27" cy="610.25" r="2.93" fill="#124c8a" stroke="#081a30" stroke-width="1.25"/>
<circle cx="196.47" cy="610.25" r="2.93" fill="#124c8a" stroke="#081a30" stroke-width="1.25"/>
<circle cx="207.67" cy="610.25" r="2.93" fill="#124c8a" stroke="#081a30" stroke-width="1.25"/>
<circle cx="224.47" cy="588.45" r="2.93" fill="#d6d6d6" stroke="#2a2a2a" stroke-width="1.25"/>
<circle cx="218.87" cy="610.25" r="2.93" fill="#124c8a" stroke="#081a30" stroke-width="1.25"/>
<circle cx="230.07" cy="610.25" r="2.93" fill="#124c8a" stroke="#081a30" stroke-width="1.25"/>
<circle cx="190.87" cy="566.65" r="2.93" fill="#124c8a" stroke="#081a30" stroke-width="1.25"/>
<circle cx="202.07" cy="566.65" r="2.93" fill="#124c8a" stroke="#081a30" stroke-width="1.25"/>
<circle cx="380.57" cy="523.05" r="2.93" fill="#ca0826" stroke="#3a000c" stroke-width="1.25"/>
<circle cx="380.57" cy="544.85" r="16.60" fill="#ca0826" stroke="#3a000c" stroke-width="1.4"/>
<circle cx="241.27" cy="566.65" r="2.93" fill="#ca0826" stroke="#3a000c" stroke-width="1.25"/>
<circle cx="241.27" cy="588.45" r="3.60" fill="#ca0826" stroke="#3a000c" stroke-width="1.25"/>
<circle cx="241.27" cy="610.25" r="3.50" fill="#ca0826" stroke="#3a000c" stroke-width="1.25"/>
<circle cx="258.07" cy="566.65" r="2.93" fill="#ca0826" stroke="#3a000c" stroke-width="1.25"/>
<circle cx="252.47" cy="588.45" r="4.32" fill="#ca0826" stroke="#3a000c" stroke-width="1.25"/>
<circle cx="252.47" cy="610.25" r="2.93" fill="#ca0826" stroke="#3a000c" stroke-width="1.25"/>
<circle cx="263.67" cy="588.45" r="2.93" fill="#ca0826" stroke="#3a000c" stroke-width="1.25"/>
<circle cx="274.87" cy="566.65" r="2.93" fill="#ca0826" stroke="#3a000c" stroke-width="1.25"/>
<circle cx="274.87" cy="588.45" r="2.93" fill="#ca0826" stroke="#3a000c" stroke-width="1.25"/>
<circle cx="286.07" cy="566.65" r="4.73" fill="#ca0826" stroke="#3a000c" stroke-width="1.25"/>
<circle cx="286.07" cy="588.45" r="2.93" fill="#ca0826" stroke="#3a000c" stroke-width="1.25"/>
<circle cx="297.27" cy="566.65" r="2.93" fill="#ca0826" stroke="#3a000c" stroke-width="1.25"/>
<circle cx="308.47" cy="566.65" r="2.93" fill="#ca0826" stroke="#3a000c" stroke-width="1.25"/>
<circle cx="319.67" cy="566.65" r="2.93" fill="#ca0826" stroke="#3a000c" stroke-width="1.25"/>
<circle cx="330.87" cy="566.65" r="2.93" fill="#ca0826" stroke="#3a000c" stroke-width="1.25"/>
<circle cx="342.07" cy="566.65" r="2.93" fill="#ca0826" stroke="#3a000c" stroke-width="1.25"/>
<circle cx="353.27" cy="566.65" r="3.80" fill="#ca0826" stroke="#3a000c" stroke-width="1.25"/>
<circle cx="364.47" cy="566.65" r="2.93" fill="#ca0826" stroke="#3a000c" stroke-width="1.25"/>
<circle cx="375.67" cy="566.65" r="2.93" fill="#ca0826" stroke="#3a000c" stroke-width="1.25"/>
<circle cx="386.87" cy="566.65" r="2.93" fill="#ca0826" stroke="#3a000c" stroke-width="1.25"/>
<circle cx="398.07" cy="566.65" r="2.93" fill="#ca0826" stroke="#3a000c" stroke-width="1.25"/>
<circle cx="409.27" cy="566.65" r="2.93" fill="#ca0826" stroke="#3a000c" stroke-width="1.25"/>
<circle cx="420.47" cy="566.65" r="2.93" fill="#ca0826" stroke="#3a000c" stroke-width="1.25"/>
<circle cx="431.67" cy="566.65" r="2.93" fill="#ca0826" stroke="#3a000c" stroke-width="1.25"/>
<circle cx="442.87" cy="566.65" r="2.93" fill="#ca0826" stroke="#3a000c" stroke-width="1.25"/>
<circle cx="454.07" cy="566.65" r="2.93" fill="#ca0826" stroke="#3a000c" stroke-width="1.25"/>
<circle cx="465.27" cy="566.65" r="2.93" fill="#ca0826" stroke="#3a000c" stroke-width="1.25"/>
<circle cx="476.47" cy="566.65" r="2.93" fill="#ca0826" stroke="#3a000c" stroke-width="1.25"/>
<circle cx="487.67" cy="566.65" r="2.93" fill="#ca0826" stroke="#3a000c" stroke-width="1.25"/>
<circle cx="498.87" cy="566.65" r="2.93" fill="#ca0826" stroke="#3a000c" stroke-width="1.25"/>
<circle cx="510.07" cy="566.65" r="2.93" fill="#ca0826" stroke="#3a000c" stroke-width="1.25"/>
<text x="246.00" y="481.70" font-size="8.3" fill="#2a2a2a" textLength="62.5" lengthAdjust="spacingAndGlyphs">Inferred germline</text>
<text x="7.80" y="476.77" font-size="8.3" fill="#2a2a2a" textLength="50.2" lengthAdjust="spacingAndGlyphs">N-motif status</text>
<circle cx="10.6" cy="487.30" r="3.65" fill="#ca0826" stroke="#3a000c" stroke-width="1.2"/>
<text x="17.80" y="490.20" font-size="8.3" fill="#2a2a2a" textLength="129.7" lengthAdjust="spacingAndGlyphs">N-motif-positive (dominant N-motif)</text>
<circle cx="10.6" cy="499.57" r="3.65" fill="#3aac38" stroke="#123a10" stroke-width="1.2"/>
<text x="17.80" y="502.47" font-size="8.3" fill="#2a2a2a" textLength="144.6" lengthAdjust="spacingAndGlyphs">N-motif-positive (non-dominant N-motif)</text>
<circle cx="10.6" cy="511.84" r="3.65" fill="#124c8a" stroke="#081a30" stroke-width="1.2"/>
<text x="17.80" y="514.74" font-size="8.3" fill="#2a2a2a" textLength="60.9" lengthAdjust="spacingAndGlyphs">N-motif-negative</text>
<circle cx="10.6" cy="524.11" r="3.65" fill="#d6d6d6" stroke="#2a2a2a" stroke-width="1.2"/>
<text x="17.80" y="527.01" font-size="8.3" fill="#2a2a2a" textLength="42.2" lengthAdjust="spacingAndGlyphs">Inferred cell</text>
<rect x="0.5" y="0.5" width="519" height="663" fill="none" stroke="#5a5a5a" stroke-width="1"/>
</svg>
</body></html>
